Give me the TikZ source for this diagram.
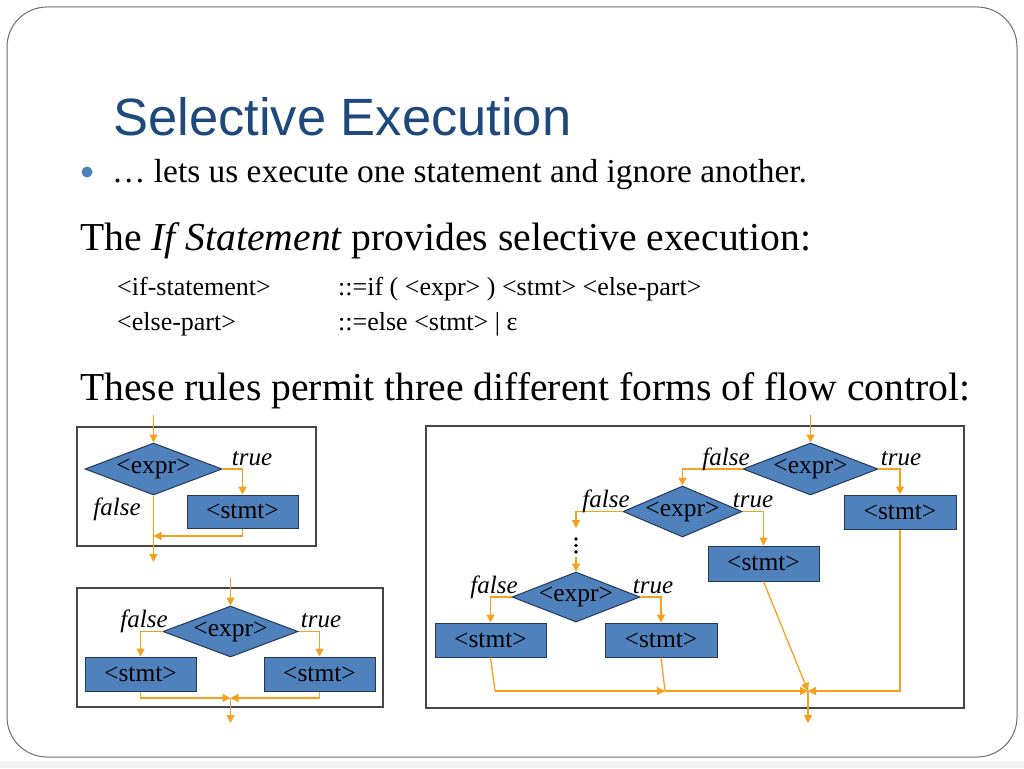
\documentclass[tikz,border=0pt]{standalone}
\usepackage{fontspec}
\setmainfont{Liberation Serif}
\newfontfamily\titlefont{Liberation Sans}
\usetikzlibrary{shapes.geometric,arrows.meta}
\definecolor{titleblue}{RGB}{31,73,125}
\definecolor{bulletblue}{RGB}{79,129,189}
\definecolor{shapeblue}{RGB}{79,129,189}
\definecolor{shapeedge}{RGB}{35,55,90}
\definecolor{flow}{RGB}{247,160,30}
\definecolor{framegray}{RGB}{70,70,70}
\definecolor{slidegray}{RGB}{110,110,110}
\newcommand{\exprtext}{\makebox[0pt]{\raisebox{-2pt}{<expr>}}}
\begin{document}
\begin{tikzpicture}[x=1pt,y=-1pt,
  cond/.style={diamond, fill=shapeblue, draw=shapeedge, line width=1pt, inner sep=0pt,
    font=\fontsize{25.5}{25.5}\selectfont},
  stmtbox/.style={rectangle, fill=shapeblue, draw=shapeedge, line width=1pt, inner sep=0pt,
    font=\fontsize{25.5}{25.5}\selectfont},
  flowline/.style={draw=flow, line width=1.3pt},
  flowarrow/.style={flowline, -{Triangle[length=8pt,width=8pt]}},
  lbl/.style={font=\fontsize{25}{25}\selectfont\itshape, anchor=base, inner sep=0pt},
  panel/.style={draw=framegray, line width=1.2pt},
  txt/.style={anchor=base west, inner sep=0pt}
]
\useasboundingbox (0,0) rectangle (1024,768);
\fill[white] (0,0) rectangle (1024,768);
\fill[gray!10] (0,761) rectangle (1024,768);
\draw[slidegray, line width=1pt, rounded corners=40pt] (7,7) rectangle (1017,757);

% texts
\node[txt, font=\titlefont\fontsize{52.5}{52.5}\selectfont, text=titleblue] (title) at (113,135) {Selective Execution};
\fill[bulletblue] (87,172) circle (5.5);
\node[txt, font=\fontsize{33.4}{33.4}\selectfont] (bullet) at (112,182) {… lets us execute one statement and ignore another.};
\node[txt, font=\fontsize{39.6}{39.6}\selectfont] (ifline) at (80,250) {The {\itshape If Statement} provides selective execution:};
\node[txt, font=\fontsize{26}{26}\selectfont] (g1a) at (117,295) {<if-statement>};
\node[txt, font=\fontsize{26}{26}\selectfont] (g1b) at (338,295) {::=if ( <expr> ) <stmt> <else-part>};
\node[txt, font=\fontsize{26}{26}\selectfont] (g2a) at (117,330) {<else-part>};
\node[txt, font=\fontsize{26}{26}\selectfont] (g2b) at (338,330) {::=else <stmt> | ε};
\node[txt, font=\fontsize{39.6}{39.6}\selectfont] (rules) at (80,400) {These rules permit three different forms of flow control:};

% panels
\draw[panel] (77,427) rectangle (316,546);
\draw[panel] (77,588) rectangle (383,707);
\draw[panel] (426,426) rectangle (964,708);

% ---- panel 1
\node[cond, minimum width=137pt, minimum height=52pt] (d1) at (153.5,469) {\exprtext};
\node[stmtbox, minimum width=111pt, minimum height=33pt] (s1) at (242.5,511.5) {<stmt>};
\coordinate (in1) at (153.5,415);
\coordinate (j1) at (153.5,536);
\coordinate (out1) at (153.5,562);
\draw[flowarrow] (in1) -- (d1.north);
\draw[flowarrow] (d1.east) -| (s1.north);
\draw[flowarrow] (d1.south) -- (out1);
\draw[flowarrow] (s1.south) |- (j1);
\node[lbl] (t1l) at (252,465) {true};
\node[lbl] (f1l) at (117,515) {false};

% ---- panel 2
\node[cond, minimum width=135pt, minimum height=51pt] (d2) at (230.5,631.5) {\exprtext};
\node[stmtbox, minimum width=111pt, minimum height=34pt] (s2l) at (140.5,674) {<stmt>};
\node[stmtbox, minimum width=111pt, minimum height=34pt] (s2r) at (319.5,674) {<stmt>};
\coordinate (in2) at (230.5,578);
\coordinate (j2) at (230.5,698);
\coordinate (out2) at (230.5,723);
\draw[flowarrow] (in2) -- (d2.north);
\draw[flowarrow] (d2.west) -| (s2l.north);
\draw[flowarrow] (d2.east) -| (s2r.north);
\draw[flowarrow] (s2l.south) |- (j2);
\draw[flowarrow] (s2r.south) |- (j2);
\draw[flowarrow] (j2) -- (out2);
\node[lbl] (f2l) at (144,627) {false};
\node[lbl] (t2l) at (321,627) {true};

% ---- panel 3
\node[cond, minimum width=135pt, minimum height=52pt] (e1) at (810.5,469) {\exprtext};
\node[cond, minimum width=119pt, minimum height=51pt] (e2) at (682.5,511.5) {\exprtext};
\node[cond, minimum width=128pt, minimum height=50pt] (e3) at (576,597) {\exprtext};
\node[stmtbox, minimum width=112pt, minimum height=34pt] (u1) at (900,512) {<stmt>};
\node[stmtbox, minimum width=111pt, minimum height=35pt] (u2) at (763.5,563.5) {<stmt>};
\node[stmtbox, minimum width=111pt, minimum height=34pt] (u3) at (490.5,640) {<stmt>};
\node[stmtbox, minimum width=112pt, minimum height=34pt] (u4) at (661,640) {<stmt>};
\coordinate (in3) at (810.5,415);
\coordinate (k1) at (576,528);
\coordinate (k2) at (576,557);
\coordinate (m1) at (495,691);
\coordinate (m2) at (665,691);
\coordinate (m3) at (808,691);
\coordinate (out3) at (808,723);
\draw[flowarrow] (in3) -- (e1.north);
\draw[flowarrow] (e1.west) -| (e2.north);
\draw[flowarrow] (e1.east) -| (u1.north);
\draw[flowarrow] (e2.east) -| (u2.north);
\draw[flowarrow] (e2.west) -| (k1);
\fill[black] (576,539) circle (1.8) (576,545.5) circle (1.8) (576,552) circle (1.8);
\draw[flowarrow] (k2) -- (e3.north);
\draw[flowarrow] (e3.west) -| (u3.north);
\draw[flowarrow] (e3.east) -| (u4.north);
\draw[flowline] (u3.south) -- (m1);
\draw[flowarrow] (m1) -- (m2);
\draw[flowline] (u4.south) -- (m2);
\draw[flowarrow] (m2) -- (m3);
\draw[flowarrow] (u2.south) -- (m3);
\draw[flowarrow] (u1.south) |- (m3);
\draw[flowarrow] (m3) -- (out3);
\node[lbl] (f31) at (726,465) {false};
\node[lbl] (t31) at (901,465) {true};
\node[lbl] (f32) at (606,507) {false};
\node[lbl] (t32) at (753,507) {true};
\node[lbl] (f33) at (494,593) {false};
\node[lbl] (t33) at (653,593) {true};
\end{tikzpicture}
\end{document}
